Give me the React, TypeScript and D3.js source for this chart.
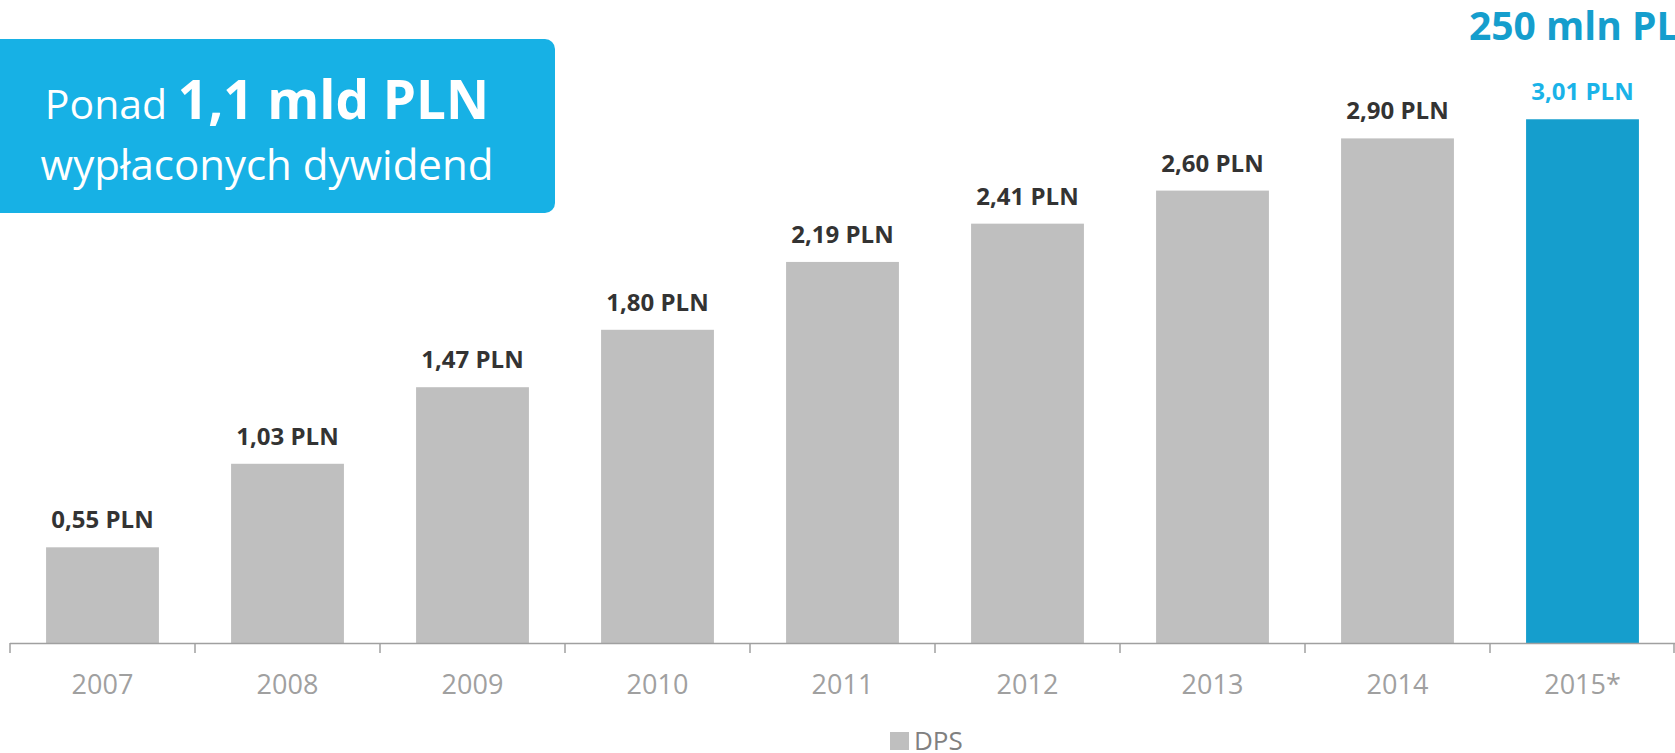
import { useEffect, useRef } from "react";
import * as d3 from "d3";

const years = ["2007", "2008", "2009", "2010", "2011", "2012", "2013", "2014", "2015*"];
const dps = [0.55, 1.03, 1.47, 1.8, 2.19, 2.41, 2.6, 2.9, 3.01];
const labels = ["0,55 PLN", "1,03 PLN", "1,47 PLN", "1,80 PLN", "2,19 PLN", "2,41 PLN", "2,60 PLN", "2,90 PLN", "3,01 PLN"];
const highlight = "2015*";

const App = () => {
  const svgRef = useRef<SVGSVGElement | null>(null);

  useEffect(() => {
    const width = 1675;
    const height = 753;
    const baseY = 643;
    const font = "'Open Sans', sans-serif";

    const svg = d3.select(svgRef.current);
    svg.selectAll("*").remove();

    // x = one band per year, axis spans the whole width
    const x = d3.scaleBand<string>().domain(years).range([10, width]).paddingInner(0.39).paddingOuter(0.195);
    const y = d3.scaleLinear().domain([0, 3.5]).range([baseY, baseY - 3.5 * 174]);

    // bars
    svg.append("g")
      .selectAll("rect")
      .data(years)
      .join("rect")
      .attr("x", (d) => x(d)!)
      .attr("width", x.bandwidth())
      .attr("y", (_, i) => y(dps[i]))
      .attr("height", (_, i) => baseY - y(dps[i]))
      .attr("fill", (d) => (d === highlight ? "#159ecd" : "#bfbfbf"));

    // value labels
    svg.append("g")
      .selectAll("text")
      .data(years)
      .join("text")
      .attr("x", (d) => x(d)! + x.bandwidth() / 2)
      .attr("y", (_, i) => y(dps[i]) - 19)
      .attr("text-anchor", "middle")
      .attr("font-family", font)
      .attr("font-weight", 700)
      .attr("font-size", 24)
      .attr("fill", (d) => (d === highlight ? "#1ab3e8" : "#333333"))
      .text((_, i) => labels[i]);

    // axis: a plain line plus ticks at band edges
    const step = x.step();
    const edges = d3.range(years.length + 1).map((i) => 10 + i * step);
    const axis = svg.append("g").attr("stroke", "#a0a0a0").attr("stroke-width", 1.5);
    axis.append("line").attr("x1", 10).attr("x2", width).attr("y1", baseY + 0.5).attr("y2", baseY + 0.5);
    axis.selectAll("line.tick")
      .data(edges)
      .join("line")
      .attr("class", "tick")
      .attr("x1", (d) => Math.min(d, width - 1))
      .attr("x2", (d) => Math.min(d, width - 1))
      .attr("y1", baseY)
      .attr("y2", baseY + 10);

    svg.append("g")
      .selectAll("text")
      .data(years)
      .join("text")
      .attr("x", (d) => x(d)! + x.bandwidth() / 2)
      .attr("y", 694)
      .attr("text-anchor", "middle")
      .attr("font-family", font)
      .attr("font-size", 27)
      .attr("fill", "#a0a0a0")
      .text((d) => d);

    // legend
    svg.append("rect").attr("x", 890).attr("y", 732).attr("width", 19).attr("height", 18).attr("fill", "#bfbfbf");
    svg.append("text")
      .attr("x", 914)
      .attr("y", 750)
      .attr("font-family", font)
      .attr("font-size", 26)
      .attr("fill", "#808080")
      .text("DPS");

    // blue callout box
    svg.append("rect")
      .attr("x", -20)
      .attr("y", 39)
      .attr("width", 575)
      .attr("height", 174)
      .attr("rx", 10)
      .attr("fill", "#17b1e5");
    const t1 = svg.append("text")
      .attr("x", 267)
      .attr("y", 119)
      .attr("text-anchor", "middle")
      .attr("font-family", font)
      .attr("fill", "#ffffff");
    t1.append("tspan").attr("font-size", 41).text("Ponad ");
    t1.append("tspan").attr("font-size", 53).attr("font-weight", 700).text("1,1 mld PLN");
    svg.append("text")
      .attr("x", 267)
      .attr("y", 180)
      .attr("text-anchor", "middle")
      .attr("font-family", font)
      .attr("font-size", 42)
      .attr("fill", "#ffffff")
      .text("wypłaconych dywidend");

    // headline cut by the right edge
    svg.append("text")
      .attr("x", 1469)
      .attr("y", 40)
      .attr("font-family", font)
      .attr("font-weight", 700)
      .attr("font-size", 39)
      .attr("fill", "#159ecd")
      .text("250 mln PLN");
  }, []);

  return (
    <svg
      ref={svgRef}
      width={1675}
      height={753}
      style={{ position: "absolute", top: 0, left: 0, background: "#ffffff" }}
    />
  );
};

export default App;
